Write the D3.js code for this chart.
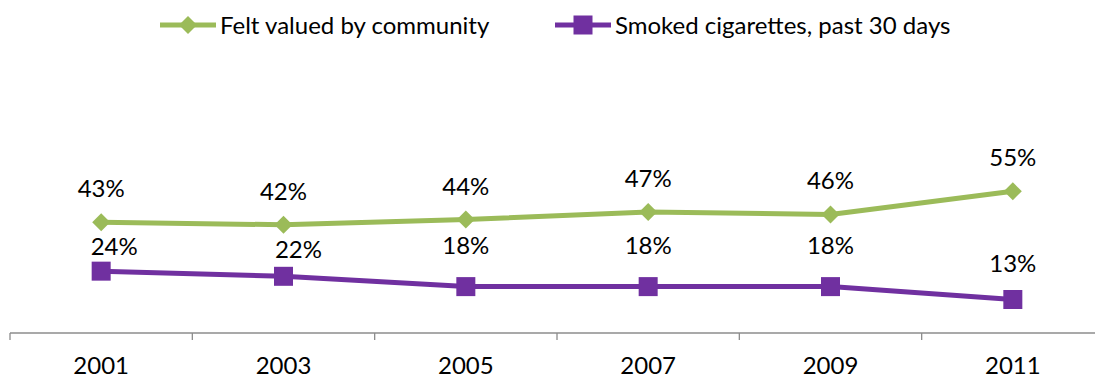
<!DOCTYPE html>
<html><head><meta charset="utf-8">
<script src="https://cdn.jsdelivr.net/npm/d3@7"></script>
<style>body{margin:0;background:#fff}svg{display:block;font-family:Lato,"Liberation Sans",sans-serif}</style>
</head><body><svg id="c" width="1095" height="379"></svg>
<script>
const years = ["2001","2003","2005","2007","2009","2011"];
const valued = [43,42,44,47,46,55];
const smoked = [24,22,18,18,18,13];
const seriesNames = ["Felt valued by community","Smoked cigarettes, past 30 days"];
// label offsets (manually placed in original)
const smokedLabelDx = [13,15,0,0,0,0];
const smokedLabelDy = [-25,-27,-42,-42,-42,-36];

const FS = 24;
const svg = d3.select("#c");
const x = d3.scaleBand().domain(years).range([10, 1104]);
const y = d3.scaleLinear().domain([0, 70]).range([333, 333 - 70*2.577]);
const green = "#9BBB59", purple = "#7030A0", axisCol = "#8C8C8C";

// axis
svg.append("line").attr("x1",10).attr("x2",1095).attr("y1",y(0)).attr("y2",y(0)).attr("stroke",axisCol).attr("stroke-width",1.3);
const bounds = years.map(d=>x(d)).concat([x.range()[1]]);
svg.selectAll(".tk").data(bounds).enter().append("line")
  .attr("x1",d=>d).attr("x2",d=>d).attr("y1",y(0)).attr("y2",y(0)+7).attr("stroke",axisCol).attr("stroke-width",1.3);
svg.selectAll(".tl").data(years).enter().append("text")
  .attr("x",d=>x(d)+x.bandwidth()/2).attr("y",374).attr("text-anchor","middle")
  .attr("font-size",FS).attr("fill","#000").text(d=>d);

const cx = d=>x(d)+x.bandwidth()/2;
const line = d3.line().x(d=>cx(d[0])).y(d=>y(d[1]));

function drawSeries(vals, color, marker){
  const pts = years.map((d,i)=>[d,vals[i]]);
  svg.append("path").datum(pts).attr("d",line).attr("fill","none").attr("stroke",color).attr("stroke-width",5).attr("stroke-linejoin","round");
  pts.forEach(p=>marker(cx(p[0]), y(p[1]), color));
}
function diamond(px,py,color){
  svg.append("path").attr("d",`M${px},${py-9}L${px+9},${py}L${px},${py+9}L${px-9},${py}Z`).attr("fill",color);
}
function square(px,py,color){
  svg.append("rect").attr("x",px-9.5).attr("y",py-9.5).attr("width",19).attr("height",19).attr("fill",color);
}
drawSeries(valued, green, diamond);
drawSeries(smoked, purple, square);

// labels
svg.selectAll(".lv").data(valued).enter().append("text")
  .attr("x",(d,i)=>cx(years[i])).attr("y",d=>y(d)-34+9).attr("text-anchor","middle")
  .attr("font-size",FS).text(d=>d+"%");
svg.selectAll(".ls").data(smoked).enter().append("text")
  .attr("x",(d,i)=>cx(years[i])+smokedLabelDx[i]).attr("y",(d,i)=>y(d)+smokedLabelDy[i]+9).attr("text-anchor","middle")
  .attr("font-size",FS).text(d=>d+"%");

// legend
const leg = [{n:seriesNames[0],c:green,m:diamond,x0:160},{n:seriesNames[1],c:purple,m:square,x0:555}];
leg.forEach(l=>{
  svg.append("line").attr("x1",l.x0).attr("x2",l.x0+56).attr("y1",25).attr("y2",25).attr("stroke",l.c).attr("stroke-width",5);
  l.m(l.x0+28,25,l.c);
  svg.append("text").attr("x",l.x0+60).attr("y",34).attr("font-size",FS).text(l.n);
});
</script></body></html>
